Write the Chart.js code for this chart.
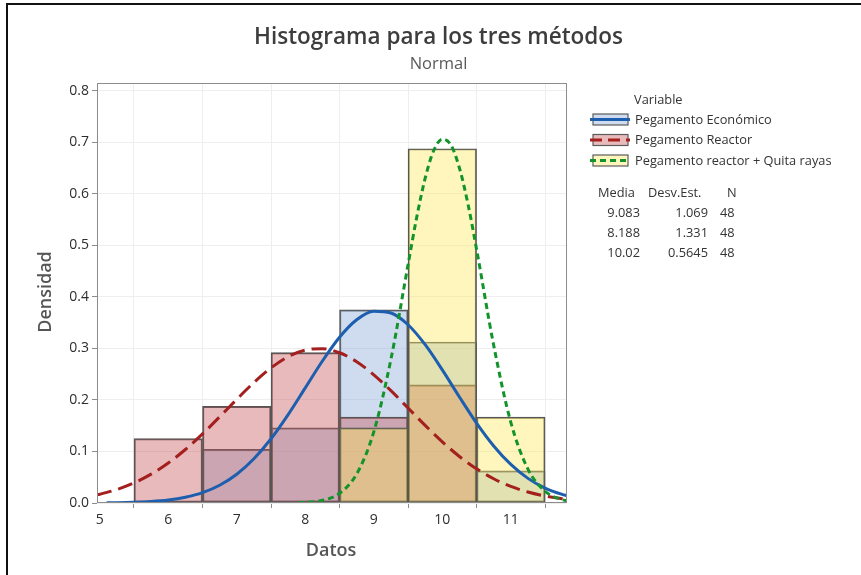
<!DOCTYPE html>
<html>
<head>
<meta charset="utf-8">
<script src="https://cdn.jsdelivr.net/npm/chart.js@4.4.1/dist/chart.umd.min.js"></script>
<style>
  html, body { margin: 0; padding: 0; background: #ffffff; }
  #wrap { width: 861px; height: 575px; position: relative; }
</style>
</head>
<body>
<div id="wrap"><canvas id="c" width="861" height="575"></canvas></div>
<script>
// Histogram bins (bin centres, width 1)
const binCenters = [6, 7, 8, 9, 10, 11];
// Densities per bin for each variable (null = empty bin)
const densEconomico = [null, 0.1042, 0.1458, 0.375, 0.3125, 0.0625];
const densReactor   = [0.125, 0.1875, 0.2917, 0.1667, 0.2292, null];
const densQuita     = [null, null, null, 0.1458, 0.6875, 0.1667];

// Fitted normal curves, sampled along the x axis
const curveEconomicoX = [5.1, 5.25, 5.5, 5.75, 6, 6.25, 6.5, 6.75, 7, 7.25, 7.5, 7.75, 8, 8.25, 8.5, 8.75, 9, 9.25, 9.5, 9.75, 10, 10.25, 10.5, 10.75, 11, 11.25, 11.5, 11.75, 11.82];
const curveEconomicoY = [0.0004, 0.0006, 0.0014, 0.0029, 0.0058, 0.0112, 0.0201, 0.0345, 0.0559, 0.0858, 0.1246, 0.1715, 0.2234, 0.2755, 0.3216, 0.3555, 0.3721, 0.3687, 0.3459, 0.3072, 0.2583, 0.2057, 0.155, 0.1107, 0.0748, 0.0478, 0.029, 0.0166, 0.0141];

const curveReactorX = [4.96, 5, 5.25, 5.5, 5.75, 6, 6.25, 6.5, 6.75, 7, 7.25, 7.5, 7.75, 8, 8.25, 8.5, 8.75, 9, 9.25, 9.5, 9.75, 10, 10.25, 10.5, 10.75, 11, 11.25, 11.5, 11.75, 11.82];
const curveReactorY = [0.0158, 0.017, 0.0262, 0.039, 0.056, 0.0776, 0.1038, 0.1341, 0.1672, 0.2012, 0.2338, 0.2622, 0.2839, 0.2967, 0.2994, 0.2916, 0.2741, 0.2488, 0.218, 0.1844, 0.1505, 0.1187, 0.0903, 0.0663, 0.047, 0.0321, 0.0213, 0.0136, 0.0083, 0.0072];

const curveQuitaX = [7.9, 8, 8.25, 8.5, 8.75, 9, 9.25, 9.5, 9.625, 9.75, 9.875, 10, 10.125, 10.25, 10.375, 10.5, 10.75, 11, 11.25, 11.5, 11.75, 11.82];
const curveQuitaY = [0.0006, 0.0012, 0.0052, 0.0188, 0.0562, 0.138, 0.2788, 0.4625, 0.5533, 0.6303, 0.684, 0.706, 0.695, 0.65, 0.5799, 0.4924, 0.306, 0.1566, 0.0658, 0.0228, 0.0064, 0.0044];

// Axis ticks
const xTicks = [5, 6, 7, 8, 9, 10, 11];
const yTicks = [0, 0.1, 0.2, 0.3, 0.4, 0.5, 0.6, 0.7, 0.8];

// Legend and summary table
const seriesNames = ['Pegamento Económico', 'Pegamento Reactor', 'Pegamento reactor + Quita rayas'];
const statMedia = ['9.083', '8.188', '10.02'];
const statDesv  = ['1.069', '1.331', '0.5645'];
const statN     = ['48', '48', '48'];

const FONT = "'Open Sans', 'Noto Sans', sans-serif";

const barFill = ['rgba(135,168,215,0.4)', 'rgba(197,82,85,0.4)', 'rgba(252,232,88,0.4)'];
const swatchFill = ['#cfdcef', '#e8babb', '#fef6bc'];
const lineColor = ['#1d5fae', '#a3201f', '#12942b'];
const lineDash = [[], [15, 7], [6, 4]];

function pts(xs, ys) { return xs.map((x, i) => ({ x: x, y: ys[i] })); }
function barPts(ys) { return binCenters.map((x, i) => ({ x: x, y: ys[i] })); }

function barDataset(label, ys, idx, order) {
  return {
    type: 'bar', label: label, data: barPts(ys), order: order,
    backgroundColor: barFill[idx], borderColor: '#555555', borderWidth: 1.3,
    borderSkipped: false, grouped: false, barPercentage: 1, categoryPercentage: 1
  };
}
function lineDataset(label, xs, ys, idx) {
  return {
    type: 'line', label: label, data: pts(xs, ys), order: 0,
    borderColor: lineColor[idx], borderWidth: 3, borderDash: lineDash[idx],
    pointRadius: 0, fill: false, cubicInterpolationMode: 'monotone'
  };
}

const decorations = {
  id: 'decorations',
  afterDatasetsDraw(chart) {
    const ctx = chart.ctx, a = chart.chartArea;
    ctx.save();
    ctx.strokeStyle = '#8c8c8c';
    ctx.lineWidth = 1;
    ctx.strokeRect(Math.round(a.left) + 0.5, Math.round(a.top) + 0.5, Math.round(a.right - a.left) - 1, Math.round(a.bottom - a.top) - 1);
    ctx.restore();
  },
  afterDraw(chart) {
    const ctx = chart.ctx;
    ctx.save();
    // outer frame (top and left edges)
    ctx.fillStyle = '#111111';
    ctx.fillRect(7, 3, 861, 2);
    ctx.fillRect(6, 3, 2, 575);

    // title and subtitle
    ctx.textAlign = 'center';
    ctx.textBaseline = 'middle';
    ctx.fillStyle = '#3d3d3d';
    ctx.font = '600 22.5px ' + FONT;
    ctx.fillText('Histograma para los tres métodos', 438.5, 38);
    ctx.fillStyle = '#5a5a5a';
    ctx.font = '16.5px ' + FONT;
    ctx.fillText('Normal', 438.5, 64);

    // axis titles
    ctx.fillStyle = '#555555';
    ctx.font = '600 18px ' + FONT;
    ctx.fillText('Datos', 331, 551);
    ctx.save();
    ctx.translate(46, 292);
    ctx.rotate(-Math.PI / 2);
    ctx.fillText('Densidad', 0, 0);
    ctx.restore();

    // legend
    ctx.textAlign = 'left';
    ctx.fillStyle = '#333333';
    ctx.font = '12.8px ' + FONT;
    ctx.fillText('Variable', 634, 100.5);
    const rows = [119.5, 140, 160.5];
    for (let i = 0; i < 3; i++) {
      const cy = rows[i];
      ctx.fillStyle = swatchFill[i];
      ctx.fillRect(593, cy - 5.5, 35, 11);
      ctx.strokeStyle = '#5c5c5c';
      ctx.lineWidth = 1.2;
      ctx.setLineDash([]);
      ctx.strokeRect(593, cy - 5.5, 35, 11);
      ctx.strokeStyle = lineColor[i];
      ctx.lineWidth = 3;
      ctx.setLineDash(i === 1 ? [12, 6] : i === 2 ? [6, 4] : []);
      ctx.beginPath();
      ctx.moveTo(590, cy);
      ctx.lineTo(630, cy);
      ctx.stroke();
      ctx.setLineDash([]);
      ctx.fillStyle = '#333333';
      ctx.fillText(seriesNames[i], 635, cy + 0.5);
    }

    // summary table
    ctx.fillText('Media', 598, 193);
    ctx.fillText('Desv.Est.', 648, 193);
    ctx.fillText('N', 727, 193);
    const tRows = [213, 233.5, 253];
    for (let i = 0; i < 3; i++) {
      ctx.textAlign = 'right';
      ctx.fillText(statMedia[i], 640, tRows[i]);
      ctx.fillText(statDesv[i], 708, tRows[i]);
      ctx.textAlign = 'left';
      ctx.fillText(statN[i], 720, tRows[i]);
    }
    ctx.restore();
  }
};

new Chart(document.getElementById('c'), {
  type: 'bar',
  data: {
    datasets: [
      lineDataset(seriesNames[2], curveQuitaX, curveQuitaY, 2),
      lineDataset(seriesNames[0], curveEconomicoX, curveEconomicoY, 0),
      lineDataset(seriesNames[1], curveReactorX, curveReactorY, 1),
      barDataset(seriesNames[2], densQuita, 2, 1),
      barDataset(seriesNames[1], densReactor, 1, 2),
      barDataset(seriesNames[0], densEconomico, 0, 3)
    ]
  },
  options: {
    responsive: false,
    animation: false,
    devicePixelRatio: 1,
    layout: { padding: { left: 0, right: 294, top: 83, bottom: 0 } },
    plugins: { legend: { display: false }, title: { display: false }, tooltip: { enabled: false } },
    scales: {
      x: {
        type: 'linear', min: 4.96, max: 11.82, offset: false,
        afterBuildTicks(s) { s.ticks = xTicks.map(v => ({ value: v })); },
        afterFit(s) { s.height = 72; },
        grid: { color: '#eeeeee', lineWidth: 1, tickColor: '#8c8c8c', tickLength: 5, drawOnChartArea: true },
        border: { display: false },
        ticks: { color: '#2e2e2e', font: { family: FONT, size: 14 }, padding: 4, maxRotation: 0,
                 callback: v => String(v) }
      },
      y: {
        type: 'linear', min: 0, max: 0.815,
        afterBuildTicks(s) { s.ticks = yTicks.map(v => ({ value: v })); },
        afterFit(s) { s.width = 97; },
        grid: { color: '#eeeeee', lineWidth: 1, tickColor: '#8c8c8c', tickLength: 5 },
        border: { display: false },
        ticks: { color: '#2e2e2e', font: { family: FONT, size: 14 }, padding: 3,
                 callback: v => Number(v).toFixed(1) }
      }
    }
  },
  plugins: [decorations]
});
</script>
</body>
</html>
